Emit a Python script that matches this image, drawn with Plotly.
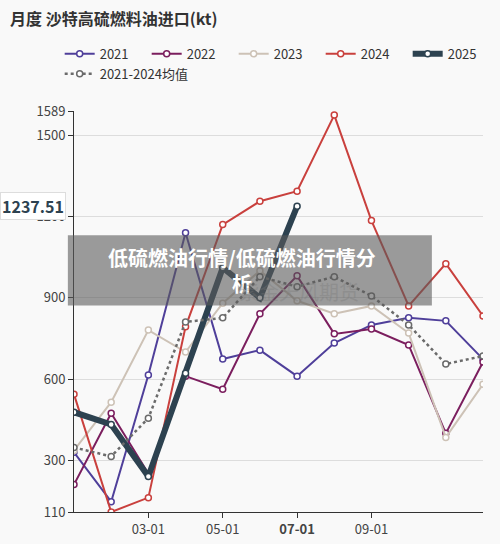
import plotly.graph_objects as go

months = list(range(1, 13))
tick_vals = [3, 5, 7, 9]
tick_text = ["03-01", "05-01", "<b>07-01</b>", "09-01"]
y_ticks = [110, 300, 600, 900, 1200, 1500, 1589]

s2021 = [330, 148, 615, 1140, 674, 707, 611, 733, 800, 826, 815, 674]
s2022 = [211, 474, 252, 611, 563, 841, 981, 767, 785, 726, 400, 663]
s2023 = [337, 515, 781, 700, 880, 1000, 889, 841, 870, 770, 385, 581]
s2024 = [544, 110, 163, 793, 1170, 1256, 1293, 1574, 1185, 870, 1026, 833]
s2025 = [478, 433, 241, 622, 1011, 900, 1237.51]
savg = [348, 315, 456, 811, 826, 978, 941, 978, 907, 800, 656, 685]

series = [
    ("2021", s2021, "#4f3f9a", 2, "solid"),
    ("2022", s2022, "#7b1e5e", 2, "solid"),
    ("2023", s2023, "#cdc2b6", 2, "solid"),
    ("2024", s2024, "#c9403d", 2, "solid"),
    ("2025", s2025, "#2d4250", 6, "solid"),
    ("2021-2024均值", savg, "#6b6b6b", 2.5, "dot"),
]

fig = go.Figure()
for name, vals, col, w, dash in series:
    fig.add_trace(go.Scatter(
        x=months[:len(vals)], y=vals, name=name, mode="lines+markers",
        line=dict(color=col, width=w, dash=dash),
        marker=dict(symbol="circle", size=6, color="white", line=dict(color=col, width=1.5)),
    ))

fig.update_layout(
    width=500, height=544, plot_bgcolor="#f9f9f9", paper_bgcolor="#f9f9f9",
    margin=dict(l=74, r=17, t=111, b=32, autoexpand=False),
    font=dict(family="Noto Sans CJK SC", size=13, color="#444"),
    title=dict(text="<b>月度 沙特高硫燃料油进口(kt)</b>", x=0.02, y=0.975, xanchor="left",
               font=dict(size=16, color="#333")),
    legend=dict(orientation="h", x=-0.035, y=1.18, xanchor="left", yanchor="top",
                entrywidth=42, font=dict(size=13, color="#333"), bgcolor="rgba(0,0,0,0)"),
    xaxis=dict(range=[1, 12], tickvals=tick_vals, ticktext=tick_text, showgrid=False,
               showline=True, linecolor="#333", ticks="outside", tickcolor="#333", zeroline=False),
    yaxis=dict(range=[110, 1589], tickvals=y_ticks, showgrid=True, gridcolor="#dddddd",
               showline=True, linecolor="#333", ticks="outside", tickcolor="#333", zeroline=False),
)

fig.add_annotation(xref="paper", yref="y", x=-0.02, y=1237.51, text="<b>1237.51</b>",
                   showarrow=False, xanchor="right", font=dict(size=16, color="#2d4250"),
                   bgcolor="white", bordercolor="#dddddd")
fig.add_shape(type="rect", xref="paper", yref="paper", x0=-0.015, x1=0.875, y0=0.515, y1=0.69,
              fillcolor="rgba(90,90,90,0.6)", line=dict(width=0), layer="above")
fig.add_annotation(xref="paper", yref="paper", x=0.41, y=0.603, text="<b>低硫燃油行情/低硫燃油行情分<br>析</b>",
                   showarrow=False, font=dict(size=20, color="white"), align="center")
fig.add_annotation(xref="paper", yref="paper", x=0.55, y=0.55, text="紫金天风期货",
                   showarrow=False, font=dict(size=20, color="rgba(120,120,120,0.35)"))

fig.write_html("out.html", config={"displayModeBar": False},
               post_script="document.body.style.margin='0';")
